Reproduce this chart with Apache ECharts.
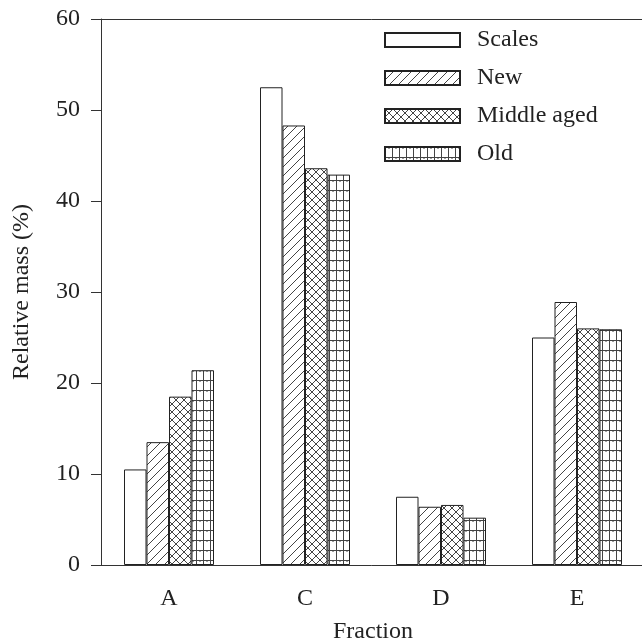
<!DOCTYPE html>
<html>
<head>
<meta charset="utf-8">
<script src="https://cdn.jsdelivr.net/npm/echarts@6/dist/echarts.min.js"></script>
<style>
html, body { margin: 0; padding: 0; background: #fff; }
#chart { width: 642px; height: 642px; }
</style>
</head>
<body>
<div id="chart"></div>
<script>
// data
var categories = ['A', 'C', 'D', 'E'];
var seriesNames = ['Scales', 'New', 'Middle aged', 'Old'];
var scales = [10.5, 52.5, 7.5, 25.0];
var newVals = [13.5, 48.3, 6.4, 28.9];
var middleAged = [18.5, 43.6, 6.6, 26.0];
var old = [21.4, 42.9, 5.2, 25.9];

var FONT = 'Liberation Serif';
var FSIZE = 24;
var LINE = '#333';

// hatch fills
function makePattern(w, h, draw) {
    var c = document.createElement('canvas');
    c.width = w;
    c.height = h;
    var ctx = c.getContext('2d');
    ctx.fillStyle = '#fff';
    ctx.fillRect(0, 0, w, h);
    ctx.strokeStyle = '#444';
    ctx.lineWidth = 1;
    ctx.beginPath();
    draw(ctx, w, h);
    ctx.stroke();
    return { image: c, repeat: 'repeat' };
}
var hatchNew = makePattern(9, 9, function (ctx, w, h) {
    for (var k = -1; k <= 1; k++) {
        ctx.moveTo(k * w, h);
        ctx.lineTo(k * w + w, 0);
    }
});
var hatchMiddle = makePattern(8, 8, function (ctx, w, h) {
    for (var k = -1; k <= 1; k++) {
        ctx.moveTo(k * w, h);
        ctx.lineTo(k * w + w, 0);
        ctx.moveTo(k * w, 0);
        ctx.lineTo(k * w + w, h);
    }
});
var hatchOld = makePattern(7, 10, function (ctx, w, h) {
    ctx.moveTo(0.5, 0);
    ctx.lineTo(0.5, h);
    ctx.moveTo(0, 0.5);
    ctx.lineTo(w, 0.5);
    ctx.moveTo(4, 0);
    ctx.lineTo(4, 2);
});

var fills = ['#fff', hatchNew, hatchMiddle, hatchOld];
var values = [scales, newVals, middleAged, old];

var myChart = echarts.init(document.getElementById('chart'));
var option = {
    animation: false,
    textStyle: { fontFamily: FONT },
    legend: {
        orient: 'vertical',
        left: 384,
        top: 28,
        padding: 0,
        itemWidth: 75,
        itemHeight: 14,
        itemGap: 14,
        icon: 'rect',
        data: seriesNames,
        textStyle: {
            fontFamily: FONT,
            fontSize: FSIZE,
            color: '#222',
            padding: [0, 0, 0, 12]
        }
    },
    grid: {
        left: 101,
        right: -3,
        top: 19,
        bottom: 77,
        outerBoundsMode: 'none'
    },
    xAxis: [{
        type: 'category',
        data: categories,
        name: 'Fraction',
        nameLocation: 'middle',
        nameGap: 55,
        nameTextStyle: { fontFamily: FONT, fontSize: FSIZE, color: '#222' },
        axisLine: { lineStyle: { color: LINE, width: 1 } },
        axisTick: { alignWithLabel: true, length: 10, lineStyle: { color: LINE } },
        axisLabel: { margin: 22, fontFamily: FONT, fontSize: FSIZE, color: '#222' },
        splitLine: { show: false }
    }, {
        // top frame line
        type: 'category',
        data: categories,
        position: 'top',
        axisLine: { lineStyle: { color: LINE, width: 1 } },
        axisTick: { show: false },
        axisLabel: { show: false }
    }],
    yAxis: {
        type: 'value',
        min: 0,
        max: 60,
        interval: 10,
        name: 'Relative mass (%)',
        nameLocation: 'middle',
        nameGap: 67,
        nameTextStyle: { fontFamily: FONT, fontSize: FSIZE, color: '#222' },
        axisLine: { show: true, lineStyle: { color: LINE, width: 1 } },
        axisTick: { show: true, length: 10, lineStyle: { color: LINE } },
        axisLabel: { margin: 21, fontFamily: FONT, fontSize: FSIZE, color: '#222' },
        splitLine: { show: false }
    },
    series: seriesNames.map(function (name, i) {
        return {
            name: name,
            type: 'bar',
            data: values[i],
            barWidth: 22.5,
            barGap: '0%',
            itemStyle: {
                color: fills[i],
                borderColor: '#222',
                borderWidth: 1
            }
        };
    })
};

option && myChart.setOption(option);
</script>
</body>
</html>
